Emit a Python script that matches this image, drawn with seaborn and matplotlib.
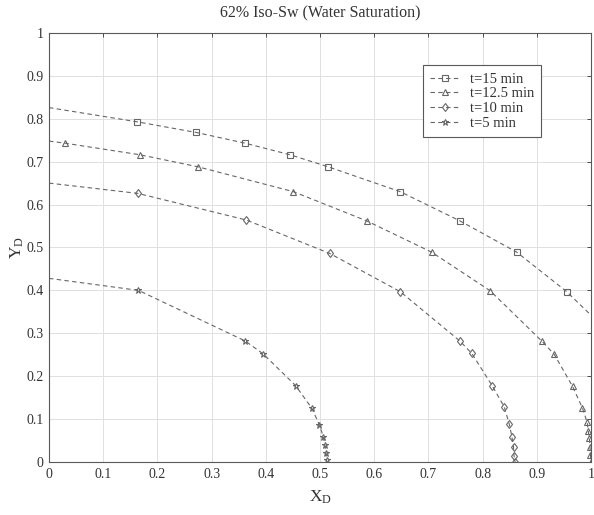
import numpy as np
import pandas as pd
import matplotlib
matplotlib.use("Agg")
import matplotlib.pyplot as plt
from matplotlib.ticker import FormatStrFormatter
import seaborn as sns

# curves (first point of each curve and the last of t=15 carry no marker)
x15 = [0.0, 0.162, 0.272, 0.362, 0.445, 0.515, 0.648, 0.758, 0.863, 0.955, 1.0]
y15 = [0.826, 0.793, 0.768, 0.743, 0.716, 0.688, 0.630, 0.562, 0.489, 0.397, 0.342]

x125 = [0.0, 0.030, 0.168, 0.275, 0.451, 0.586, 0.706, 0.814, 0.909, 0.932,
        0.966, 0.984, 0.993, 0.995, 0.997, 0.998, 0.999, 1.0]
y125 = [0.748, 0.743, 0.716, 0.688, 0.630, 0.562, 0.489, 0.399, 0.282, 0.251,
        0.176, 0.126, 0.092, 0.071, 0.055, 0.036, 0.016, 0.0]

x10 = [0.0, 0.164, 0.364, 0.518, 0.648, 0.758, 0.780, 0.818, 0.840, 0.849,
       0.854, 0.857, 0.858, 0.860]
y10 = [0.650, 0.626, 0.564, 0.486, 0.397, 0.282, 0.253, 0.177, 0.128, 0.089,
       0.059, 0.034, 0.014, 0.0]

x5 = [0.0, 0.165, 0.362, 0.395, 0.455, 0.485, 0.499, 0.506, 0.509, 0.511, 0.513]
y5 = [0.428, 0.400, 0.282, 0.252, 0.178, 0.125, 0.086, 0.059, 0.040, 0.022, 0.004]

labels = ["t=15 min", "t=12.5 min", "t=10 min", "t=5 min"]
markers = {"t=15 min": "s", "t=12.5 min": "^", "t=10 min": "d", "t=5 min": "*"}
ticks = np.round(np.arange(0, 1.01, 0.1), 1)

series = [(x15, y15), (x125, y125), (x10, y10), (x5, y5)]
rows = []
for lab, (xs, ys) in zip(labels, series):
    for i, (xv, yv) in enumerate(zip(xs, ys)):
        rows.append({"x": xv, "y": yv, "t": lab, "i": i})
df = pd.DataFrame(rows)

sns.set_style("white")
plt.rcParams["font.family"] = ["Liberation Serif", "DejaVu Serif"]
plt.rcParams["mathtext.fontset"] = "custom"
plt.rcParams["mathtext.rm"] = "Liberation Serif"
plt.rcParams["mathtext.it"] = "Liberation Serif:italic"

txt = "0.2"
grey = "0.4"

fig = plt.figure(figsize=(5.94, 5.15), dpi=100)
ax = fig.add_axes([0.0825, 0.103, 0.9125, 0.833])

sns.lineplot(data=df, x="x", y="y", hue="t", style="t", hue_order=labels,
             style_order=labels, palette=[grey] * 4, markers=markers,
             dashes={l: (4, 3) for l in labels}, sort=False, estimator=None,
             linewidth=0.8, markersize=4.5, legend=False, ax=ax)

for line, (xs, ys), lab in zip(ax.lines[:4], series, labels):
    every = [True] * len(xs)
    every[0] = False
    if lab == "t=15 min":
        every[-1] = False
    line.set_markevery(every)
    line.set_markerfacecolor("none")
    line.set_markeredgecolor(grey)
    line.set_markeredgewidth(0.8)

ax.set_xlim(0, 1)
ax.set_ylim(0, 1)
ax.set_xticks(ticks)
ax.set_yticks(ticks)
ax.xaxis.set_major_formatter(FormatStrFormatter("%g"))
ax.yaxis.set_major_formatter(FormatStrFormatter("%g"))
ax.grid(True, color="0.88", linewidth=0.7)
ax.tick_params(direction="in", top=True, right=True, length=3, width=0.6,
               labelsize=10, colors=txt, pad=4)
for s in ax.spines.values():
    s.set_color("0.35")
    s.set_linewidth(0.8)

ax.set_title("62% Iso-Sw (Water Saturation)", fontsize=11.5, color=txt, pad=11)
ax.set_xlabel("X$_\\mathrm{D}$", fontsize=12.5, color=txt, labelpad=6)
ax.set_ylabel("Y$_\\mathrm{D}$", fontsize=12.5, color=txt, labelpad=0)

leg = ax.legend(ax.lines[:4], labels, loc="upper left",
                bbox_to_anchor=(0.69, 0.925), fancybox=False, fontsize=10.5,
                handlelength=2.0, handletextpad=0.7, borderpad=0.5,
                labelspacing=0.1, framealpha=1, numpoints=1,
                borderaxespad=0)
leg.get_frame().set_edgecolor("0.35")
leg.get_frame().set_linewidth(0.8)
for t in leg.get_texts():
    t.set_color(txt)
for h in leg.legend_handles:
    h.set_markevery([1])

fig.savefig("out.png", dpi=100)
